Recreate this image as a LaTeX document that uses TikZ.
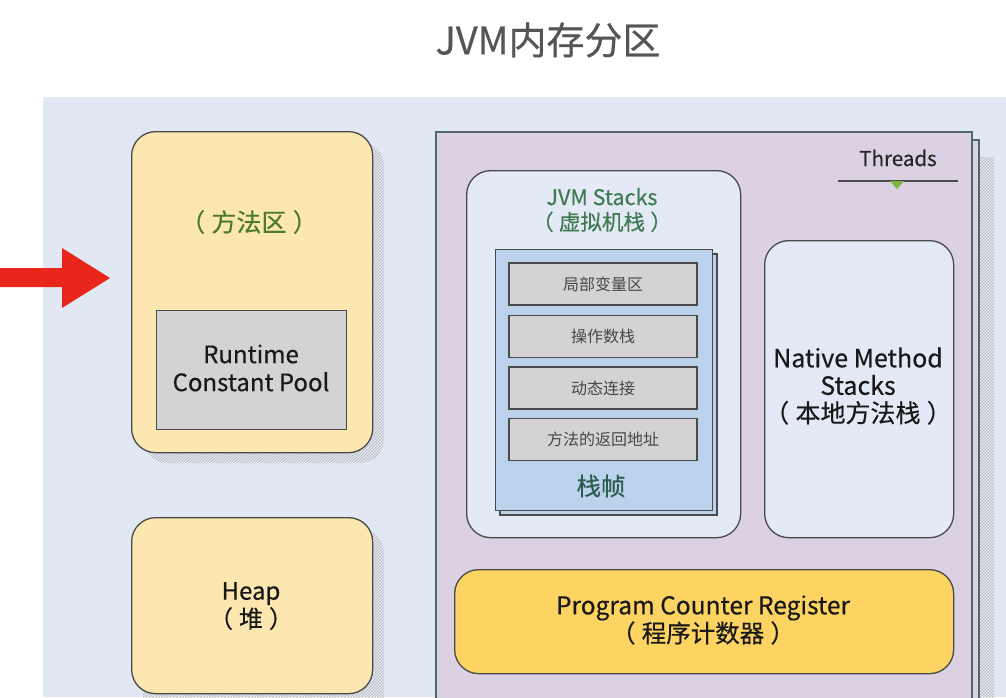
\documentclass[tikz,border=0pt]{standalone}
\usepackage{fontspec}
\setmainfont{Noto Sans CJK SC}
\newfontfamily\medfont{Noto Sans CJK SC}[FakeBold=0.4]
\usetikzlibrary{patterns}
\definecolor{bgblue}{HTML}{E1E8F4}
\definecolor{ylight}{HTML}{FDE7B1}
\definecolor{ydark}{HTML}{FDD461}
\definecolor{lavender}{HTML}{DBD1E3}
\definecolor{paleblue}{HTML}{E4EAF5}
\definecolor{frameblue}{HTML}{BCD2EC}
\definecolor{itemgray}{HTML}{D3D3D3}
\definecolor{edge}{HTML}{4A4A4A}
\definecolor{tedge}{HTML}{4F6A66}
\definecolor{greentxt}{HTML}{4C7B2E}
\definecolor{tealtxt}{HTML}{3F7A52}
\definecolor{frametxt}{HTML}{2C5B50}
\definecolor{arrowred}{HTML}{E8261B}
\definecolor{titlegray}{HTML}{555555}
\definecolor{trigreen}{HTML}{7DB63E}
\newcommand{\ps}{\hspace{0.25em}}
\begin{document}
\begin{tikzpicture}[x=1pt,y=-1pt,
  roundbox/.style={draw=edge, line width=1.3pt, rounded corners=24pt, anchor=north west, inner sep=0pt},
  ybox/.style={roundbox, fill=ylight},
  pbox/.style={roundbox, fill=paleblue},
  pcbox/.style={roundbox, fill=ydark},
  graybox/.style={draw=edge, line width=1.3pt, fill=itemgray, anchor=north west, inner sep=0pt},
  itembox/.style={draw=edge, line width=1.1pt, fill=itemgray, minimum width=188pt, minimum height=42pt, inner sep=0pt, text=black!72, font=\fontsize{16}{18}\selectfont},
  framebox/.style={draw=edge, line width=1.1pt, fill=frameblue, anchor=north west, inner sep=0pt},
  hatch/.style={fill=gray!18, pattern=north east lines, pattern color=gray!60},
  maintext/.style={align=center, text=black!90, font=\medfont\fontsize{24}{28}\selectfont},
  tbox/.style={draw=tedge, line width=1.5pt, fill=lavender}
]
\clip (0,0) rectangle (1006,697);
\fill[white] (0,0) rectangle (1006,697);
\fill[bgblue] (43,97) rectangle (1006,697);

% title
\node[text=titlegray, font=\medfont\fontsize{38}{44}\selectfont] (title) at (548,40) {JVM内存分区};

% red arrow
\fill[arrowred] (0,268) -- (62,268) -- (62,248) -- (110,278) -- (62,308) -- (62,287) -- (0,287) -- cycle;

% method area
\fill[hatch, rounded corners=24pt] (143,142) rectangle (384,463);
\node[ybox, minimum width=241pt, minimum height=321pt] (method) at (131,131) {};
\node[text=greentxt, font=\medfont\fontsize{25}{28}\selectfont] (methodlbl) at (249,222) {（\ps 方法区\ps）};
\node[graybox, minimum width=190pt, minimum height=119pt] (rcp) at (156,310) {};
\node[maintext] (rcptext) at (251,368) {Runtime\\Constant Pool};

% heap
\fill[hatch, rounded corners=24pt] (143,529) rectangle (384,720);
\node[ybox, minimum width=241pt, minimum height=176pt] (heap) at (131,517) {};
\node[maintext] (heaptext) at (251,606) {Heap\\（\ps 堆\ps）};

% threads
\fill[hatch] (455,157) rectangle (994,720);
\draw[tbox] (443,140) rectangle (979,720);
\node[tbox, anchor=north west, minimum width=536pt, minimum height=590pt, inner sep=0pt] (threads) at (435,131) {};
\node[text=black!85, font=\medfont\fontsize{20.5}{22}\selectfont] (threadslbl) at (898,158) {Threads};
\coordinate (tl) at (838,181);
\coordinate (tr) at (958,181);
\draw[edge, line width=1.3pt] (tl) -- (tr);
\fill[trigreen] (890,181) -- (904,181) -- (897,189) -- cycle;

% JVM stacks
\node[pbox, minimum width=274pt, minimum height=367pt] (jvms) at (466,170) {};
\node[align=center, text=tealtxt, font=\medfont\fontsize{21.5}{25}\selectfont] (jvmslbl) at (602,210) {JVM Stacks\\（\ps 虚拟机栈\ps）};
\draw[edge, line width=1.1pt, fill=frameblue] (500,254) rectangle (717,515);
\node[framebox, minimum width=217pt, minimum height=261pt] (frame) at (495,249) {};
\node[itembox] (item1) at (603,284) {局部变量区};
\node[itembox] (item2) at (603,336.5) {操作数栈};
\node[itembox] (item3) at (603,388) {动态连接};
\node[itembox] (item4) at (603,439.5) {方法的返回地址};
\node[text=frametxt, font=\medfont\fontsize{24.5}{28}\selectfont] (framelbl) at (601,486) {栈帧};

% native method stacks
\node[pbox, minimum width=189pt, minimum height=297pt] (native) at (764,240) {};
\node[maintext, font=\medfont\fontsize{25}{27.5}\selectfont] (nativetext) at (858,386) {Native Method\\Stacks\\（\ps 本地方法栈\ps）};

% program counter
\node[pcbox, minimum width=499pt, minimum height=104pt] (pc) at (454,569) {};
\node[maintext, font=\medfont\fontsize{24.5}{28}\selectfont] (pctext) at (703,620) {Program Counter Register\\（\ps 程序计数器\ps）};
\end{tikzpicture}
\end{document}
